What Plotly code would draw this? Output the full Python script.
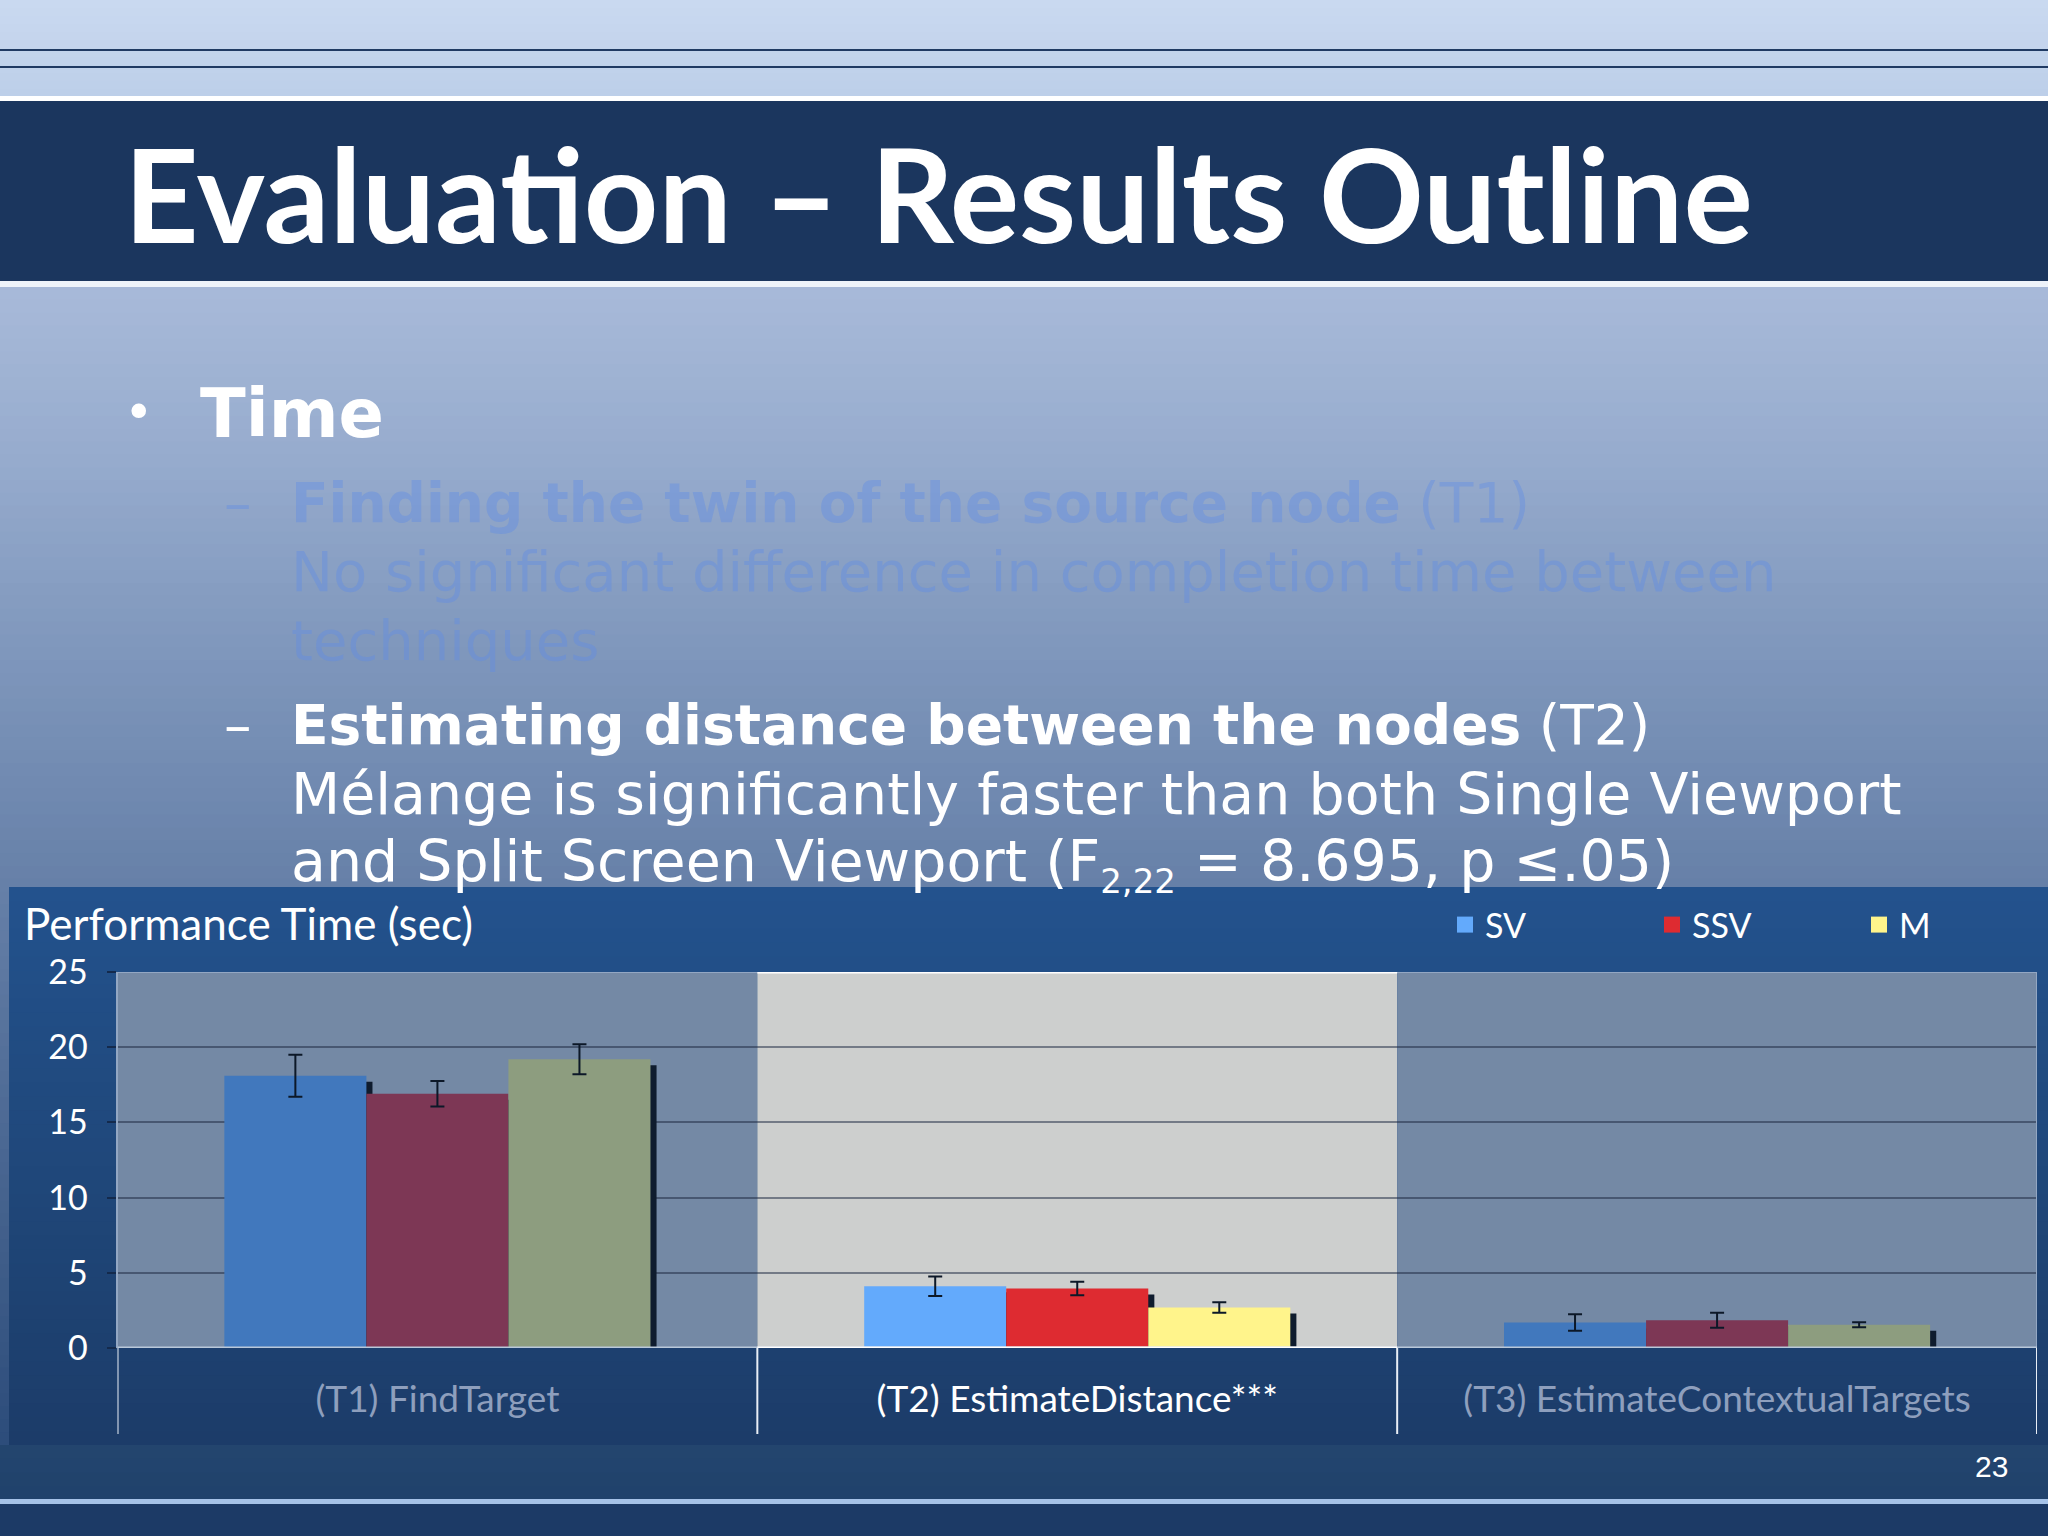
import plotly.graph_objects as go
import numpy as np

W, H = 2048, 1536

# ---------------- data ----------------
categories = ["(T1) FindTarget", "(T2) EstimateDistance***", "(T3) EstimateContextualTargets"]
series_names = ["SV", "SSV", "M"]
sv_values = [18.1, 4.1, 1.7]
ssv_values = [16.9, 3.95, 1.85]
m_values = [19.2, 2.7, 1.55]
sv_err = [1.4, 0.65, 0.55]
ssv_err = [0.85, 0.45, 0.5]
m_err = [1.0, 0.35, 0.17]
y_ticks = [0, 5, 10, 15, 20, 25]

# ---------------- styles ----------------
muted = {"SV": "#4178bd", "SSV": "#7d3755", "M": "#8d9d7f"}
bright = {"SV": "#63aafc", "SSV": "#de2b31", "M": "#fff48b"}
highlight_idx = 1
label_dim = "#8e9fbd"


def px_x(x):
    return x / W


def px_y(y):
    return 1 - y / H


def hex2rgb(h):
    h = h.lstrip("#")
    return np.array([int(h[i:i + 2], 16) for i in (0, 2, 4)], dtype=float)


def grad_shapes(y0, y1, stops, n, x0=0, x1=W):
    # stacked rectangles, each reaching the bottom of the region -> no seams
    pos = np.array([s[0] for s in stops], dtype=float)
    cols = np.array([hex2rgb(s[1]) for s in stops])
    shapes = []
    edges = np.linspace(y0, y1, n + 1)
    for a, b in zip(edges[:-1], edges[1:]):
        m = (a + b) / 2
        c = [np.interp(m, pos, cols[:, k]) for k in range(3)]
        shapes.append(dict(type="rect", xref="paper", yref="paper",
                           x0=px_x(x0), x1=px_x(x1), y0=px_y(y1), y1=px_y(a),
                           fillcolor="rgb(%d,%d,%d)" % tuple(int(round(v)) for v in c),
                           line=dict(width=0), layer="below"))
    return shapes


shapes = []
# top light band
shapes += grad_shapes(0, 97, [(0, "#cad9f0"), (97, "#bccfe9")], 12)
for yy in (50, 67):
    shapes.append(dict(type="line", xref="paper", yref="paper", x0=0, x1=1,
                       y0=px_y(yy), y1=px_y(yy), line=dict(color="#1f3a63", width=2), layer="below"))
# white + navy title band
shapes.append(dict(type="rect", xref="paper", yref="paper", x0=0, x1=1, y0=px_y(102), y1=px_y(96),
                   fillcolor="#ffffff", line=dict(width=0), layer="below"))
shapes.append(dict(type="rect", xref="paper", yref="paper", x0=0, x1=1, y0=px_y(281), y1=px_y(101),
                   fillcolor="#1b365e", line=dict(width=0), layer="below"))
shapes.append(dict(type="rect", xref="paper", yref="paper", x0=0, x1=1, y0=px_y(287), y1=px_y(281),
                   fillcolor="#eef3fa", line=dict(width=0), layer="below"))
# slide background gradient
shapes += grad_shapes(287, 1445, [(287, "#a8bad9"), (450, "#97acce"), (650, "#7f97bc"),
                                   (887, "#6680a8"), (1150, "#4a6792"), (1445, "#2c4c7a")], 90)
shapes += grad_shapes(1445, 1500, [(1445, "#23466f"), (1500, "#20416b")], 4)
shapes.append(dict(type="rect", xref="paper", yref="paper", x0=0, x1=1, y0=px_y(1504), y1=px_y(1499),
                   fillcolor="#a5c2e8", line=dict(width=0), layer="below"))
shapes.append(dict(type="rect", xref="paper", yref="paper", x0=0, x1=1, y0=0, y1=px_y(1504),
                   fillcolor="#1c3a66", line=dict(width=0), layer="below"))
# chart panel
shapes += grad_shapes(887, 1445, [(887, "#23528d"), (1200, "#1f4678"), (1445, "#1c3c69")], 40, x0=9, x1=W)

# category bands inside plot area
band_cols = ["#7489a5", "#cdcfce", "#7489a5"]
for i, c in enumerate(band_cols):
    shapes.append(dict(type="rect", xref="x", yref="y", x0=i - 0.5, x1=i + 0.5, y0=0, y1=25,
                       fillcolor=c, line=dict(width=0), layer="below"))
# separators below plot
for i in range(len(categories) + 1):
    shapes.append(dict(type="line", xref="x", yref="paper", x0=i - 0.5, x1=i - 0.5,
                       y0=px_y(1434), y1=px_y(1348), line=dict(color="#e8eef6", width=2), layer="above"))
# plot area borders
shapes.append(dict(type="line", xref="x", yref="y", x0=-0.5, x1=2.5, y0=25, y1=25,
                   line=dict(color="#93a7c3", width=2), layer="above"))
shapes.append(dict(type="line", xref="x", yref="y", x0=0.5, x1=1.5, y0=25, y1=25,
                   line=dict(color="#ffffff", width=3), layer="above"))
shapes.append(dict(type="line", xref="x", yref="y", x0=2.5, x1=2.5, y0=0, y1=25,
                   line=dict(color="#93a7c3", width=2), layer="above"))
shapes.append(dict(type="line", xref="x", yref="y", x0=-0.5, x1=2.5, y0=0, y1=0,
                   line=dict(color="#b9c8da", width=3), layer="above"))
shapes.append(dict(type="line", xref="x", yref="y", x0=0.5, x1=1.5, y0=0, y1=0,
                   line=dict(color="#ffffff", width=3), layer="above"))

# ---------------- traces ----------------
fig = go.Figure()
values = {"SV": sv_values, "SSV": ssv_values, "M": m_values}
errors = {"SV": sv_err, "SSV": ssv_err, "M": m_err}
bar_w = 0.222
shadow_dx = 0.0095
shadow_dy = 0.4

for k, name in enumerate(series_names):
    vals = values[name]
    fig.add_trace(go.Bar(x=categories, y=[v - shadow_dy for v in vals], width=bar_w,
                         offset=-1.5 * bar_w + k * bar_w + shadow_dx,
                         marker=dict(color="#0f1c2e", line=dict(width=0)),
                         showlegend=False, hoverinfo="skip"))
for k, name in enumerate(series_names):
    vals = values[name]
    cols = [bright[name] if i == highlight_idx else muted[name] for i in range(len(categories))]
    fig.add_trace(go.Bar(x=categories, y=vals, width=bar_w, offset=-1.5 * bar_w + k * bar_w,
                         marker=dict(color=cols, line=dict(width=0)), name=name, showlegend=False,
                         error_y=dict(type="data", array=errors[name], visible=True,
                                      color="#0c1828", thickness=2, width=7)))
# legend entries
for name in series_names:
    fig.add_trace(go.Scatter(x=[None], y=[None], name=name, mode="markers",
                             marker=dict(color=bright[name], symbol="square", size=16),
                             showlegend=True))

ticktext = []
for i, c in enumerate(categories):
    col = "#ffffff" if i == highlight_idx else label_dim
    ticktext.append('<span style="color:%s">%s</span>' % (col, c))

chart_font = "Lato, Open Sans, sans-serif"
body_font = "DejaVu Sans, Verdana, sans-serif"

fig.update_layout(
    width=W, height=H, margin=dict(l=0, r=0, t=0, b=0, pad=0, autoexpand=False),
    paper_bgcolor="#1c3a66", plot_bgcolor="rgba(0,0,0,0)",
    barmode="overlay", showlegend=True,
    shapes=shapes,
    xaxis=dict(domain=[px_x(117.5), px_x(2037)], type="category", categoryorder="array",
               categoryarray=categories, range=[-0.5, 2.5], showgrid=False, zeroline=False,
               showline=False, ticks="", tickmode="array", tickvals=categories, ticktext=ticktext,
               tickfont=dict(family=chart_font, size=37, color=label_dim), ticklabelstandoff=26,
               fixedrange=True, automargin=False),
    yaxis=dict(domain=[px_y(1348), px_y(972)], range=[0, 25], tickvals=y_ticks,
               showgrid=True, gridcolor="rgba(25,38,62,0.5)", gridwidth=2, zeroline=False,
               showline=True, linecolor="#93a7c3", linewidth=2,
               ticks="outside", ticklen=9, tickwidth=2, tickcolor="#142a4c",
               tickfont=dict(family=chart_font, size=34, color="#ffffff"), ticklabelstandoff=12,
               fixedrange=True, automargin=False),
    legend=dict(orientation="h", x=px_x(1445), y=px_y(925), xanchor="left", yanchor="middle",
                bgcolor="rgba(0,0,0,0)", font=dict(family=chart_font, size=34, color="#ffffff"),
                entrywidth=162, entrywidthmode="pixels", itemclick=False, itemdoubleclick=False,
                tracegroupgap=0),
)

annotations = []


def ann(text, x, y, size, color="#ffffff", family=body_font, xanchor="left"):
    annotations.append(dict(text=text, x=px_x(x), y=px_y(y), xref="paper", yref="paper",
                            xanchor=xanchor, yanchor="middle", showarrow=False,
                            font=dict(family=family, size=size, color=color)))


ann("<b>Evaluation – Results Outline</b>", 122, 193, 130, family="Lato, sans-serif")
ann("•", 122, 412, 50)
ann("<b>Time</b>", 198, 414, 67)
faded = "rgba(95,140,230,0.40)"
ann("–", 222, 503, 55, color=faded)
ann("<b>Finding the twin of the source node</b> (T1)", 289, 503, 55, color=faded)
ann("No significant difference in completion time between", 289, 572, 56, color=faded)
ann("techniques", 289, 641, 56, color=faded)
ann("–", 222, 725, 55)
ann("<b>Estimating distance between the nodes</b> (T2)", 289, 725, 55)
ann("Mélange is significantly faster than both Single Viewport", 289, 794, 57)
ann("and Split Screen Viewport (F<sub><span style='font-size:34px'>2,22</span></sub> = 8.695, p ≤.05)",
    289, 864, 57)
ann("Performance Time (sec)", 22, 923, 44, family=chart_font)
ann("23", 2010, 1466, 30, family="Liberation Sans, Arial, sans-serif", xanchor="right")
fig.update_layout(annotations=annotations)

fig.write_html("out.html", config={"displayModeBar": False},
               post_script="document.body.style.margin='0';document.body.style.overflow='hidden';")
